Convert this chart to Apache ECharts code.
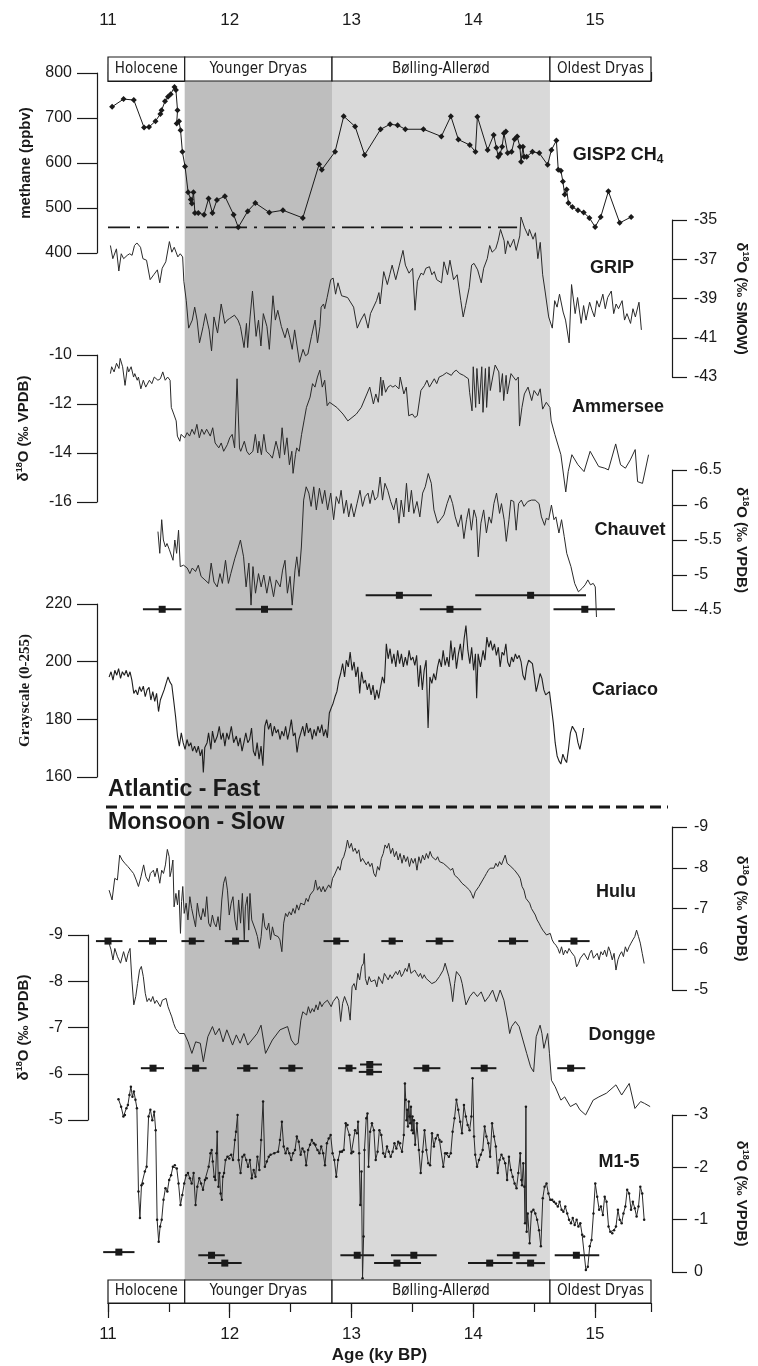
<!DOCTYPE html>
<html>
<head>
<meta charset="utf-8">
<script src="https://cdn.jsdelivr.net/npm/echarts@6/dist/echarts.min.js"></script>
<style>
  html, body { margin: 0; padding: 0; background: #fff; }
  #chart { width: 758px; height: 1366px; }
</style>
</head>
<body>
<div id="chart"></div>
<script>
// ---- data (age in ky BP) ----
const periodNames = ['Holocene', 'Younger Dryas', 'Bølling-Allerød', 'Oldest Dryas'];
const periodEdges = [11, 11.63, 12.84, 14.63, 15.46];
const gripTicks = [-43, -41, -39, -37, -35];

const methane = [[11.034,725],[11.128,742],[11.212,740],[11.296,679],[11.337,680],[11.390,693],[11.430,709],[11.440,717],[11.468,737],[11.493,747],[11.515,753],[11.546,769],[11.558,762],[11.571,717],[11.564,688],[11.583,693],[11.596,673],[11.611,625],[11.633,592],[11.658,535],[11.680,519],[11.689,510],[11.702,535],[11.714,489],[11.742,489],[11.789,485],[11.826,521],[11.858,489],[11.895,518],[11.960,526],[12.032,485],[12.070,457],[12.148,493],[12.210,511],[12.325,490],[12.437,495],[12.600,478],[12.734,597],[12.756,585],[12.865,625],[12.936,704],[13.030,681],[13.108,618],[13.239,675],[13.317,686],[13.379,684],[13.442,675],[13.591,675],[13.738,659],[13.816,704],[13.878,652],[13.972,640],[14.018,625],[14.034,703],[14.118,629],[14.168,662],[14.190,634],[14.206,614],[14.221,620],[14.237,636],[14.252,666],[14.268,670],[14.283,622],[14.315,625],[14.340,653],[14.361,659],[14.383,636],[14.393,603],[14.408,636],[14.418,614],[14.439,614],[14.486,625],[14.542,622],[14.611,596],[14.642,629],[14.683,650],[14.698,585],[14.720,583],[14.736,559],[14.751,530],[14.767,541],[14.782,511],[14.814,502],[14.860,495],[14.907,490],[14.954,478],[15.001,458],[15.047,480],[15.110,537],[15.203,467],[15.297,480]];
const methaneRef = [[11.0,457],[14.36,457]];

const grip = [[11.02,-36.3],[11.04,-36.97],[11.07,-36.47],[11.09,-37.6],[11.11,-36.72],[11.13,-36.97],[11.16,-36.8],[11.18,-36.72],[11.20,-36.8],[11.22,-36.3],[11.24,-36.17],[11.27,-36.39],[11.29,-36.97],[11.32,-37.05],[11.35,-38.04],[11.38,-37.79],[11.41,-37.54],[11.43,-38.2],[11.45,-37.46],[11.48,-37.13],[11.51,-36.1],[11.53,-36.64],[11.55,-36.39],[11.58,-36.88],[11.60,-36.72],[11.62,-36.88],[11.63,-38.12],[11.65,-39.11],[11.67,-40.51],[11.70,-40.1],[11.72,-39.44],[11.74,-40.1],[11.76,-41.26],[11.79,-40.43],[11.81,-39.77],[11.84,-40.6],[11.86,-41.67],[11.88,-39.94],[11.91,-40.76],[11.94,-39.28],[11.97,-40.27],[11.99,-40.1],[12.01,-40.02],[12.05,-39.85],[12.08,-40.1],[12.10,-40.43],[12.13,-41.5],[12.15,-40.27],[12.16,-41.5],[12.18,-39.94],[12.20,-38.62],[12.23,-40.93],[12.25,-40.1],[12.27,-41.42],[12.29,-39.77],[12.32,-40.43],[12.34,-41.59],[12.37,-38.86],[12.39,-40.1],[12.41,-39.6],[12.44,-40.43],[12.47,-41.0],[12.49,-40.51],[12.51,-41.0],[12.53,-41.59],[12.55,-40.6],[12.58,-41.83],[12.59,-42.25],[12.62,-41.59],[12.64,-41.92],[12.66,-41.83],[12.69,-40.93],[12.72,-40.1],[12.74,-41.26],[12.76,-40.43],[12.77,-39.44],[12.79,-39.28],[12.80,-39.52],[12.82,-38.95],[12.83,-39.03],[12.85,-38.04],[12.87,-37.96],[12.89,-38.78],[12.91,-38.2],[12.94,-38.86],[12.99,-38.95],[13.04,-39.44],[13.07,-40.51],[13.10,-40.1],[13.13,-39.77],[13.16,-40.51],[13.18,-39.77],[13.23,-39.11],[13.25,-38.7],[13.26,-39.28],[13.29,-37.63],[13.32,-38.29],[13.34,-37.79],[13.36,-37.3],[13.39,-38.04],[13.42,-37.3],[13.45,-36.55],[13.47,-37.3],[13.50,-37.71],[13.53,-37.46],[13.55,-39.6],[13.57,-38.12],[13.60,-37.71],[13.62,-37.79],[13.64,-37.46],[13.67,-37.38],[13.69,-37.79],[13.71,-37.63],[13.73,-38.04],[13.77,-38.2],[13.79,-37.13],[13.82,-37.79],[13.84,-37.05],[13.87,-38.04],[13.90,-37.79],[13.93,-39.11],[13.95,-39.94],[13.97,-39.36],[14.00,-38.45],[14.02,-37.3],[14.04,-37.21],[14.07,-37.54],[14.10,-38.2],[14.12,-37.46],[14.15,-36.97],[14.17,-36.3],[14.19,-36.64],[14.22,-36.47],[14.24,-36.06],[14.26,-35.48],[14.29,-36.06],[14.30,-36.72],[14.32,-36.06],[14.34,-36.39],[14.37,-35.98],[14.39,-36.55],[14.42,-35.81],[14.43,-34.85],[14.46,-35.4],[14.49,-35.81],[14.50,-35.48],[14.53,-35.98],[14.55,-35.65],[14.57,-36.97],[14.59,-36.14],[14.61,-37.79],[14.63,-38.62],[14.66,-39.94],[14.69,-40.51],[14.71,-39.11],[14.73,-39.44],[14.75,-38.78],[14.78,-39.69],[14.80,-40.1],[14.83,-41.26],[14.85,-38.29],[14.88,-39.77],[14.90,-38.95],[14.93,-40.27],[14.95,-39.36],[14.97,-40.1],[15.00,-39.19],[15.02,-39.6],[15.04,-39.94],[15.06,-39.11],[15.08,-39.44],[15.11,-38.78],[15.13,-39.52],[15.15,-38.95],[15.18,-38.62],[15.20,-39.77],[15.22,-39.28],[15.24,-39.52],[15.27,-39.11],[15.29,-40.1],[15.31,-39.77],[15.34,-40.27],[15.36,-39.52],[15.38,-39.94],[15.41,-39.19],[15.43,-40.6]];

const ammersee = [[11.02,-10.76],[11.03,-10.48],[11.05,-10.69],[11.07,-10.34],[11.09,-10.55],[11.10,-10.14],[11.12,-10.48],[11.13,-10.48],[11.14,-11.24],[11.16,-10.48],[11.17,-10.69],[11.19,-10.48],[11.21,-10.9],[11.22,-10.76],[11.24,-11.03],[11.25,-10.9],[11.27,-11.38],[11.29,-11.03],[11.31,-11.31],[11.34,-11.03],[11.36,-11.17],[11.38,-10.9],[11.41,-11.03],[11.43,-10.97],[11.45,-10.69],[11.47,-11.03],[11.49,-10.9],[11.51,-11.03],[11.52,-12.14],[11.54,-12.41],[11.56,-12.69],[11.57,-13.31],[11.59,-13.52],[11.60,-13.24],[11.63,-13.38],[11.65,-13.17],[11.67,-13.31],[11.69,-13.03],[11.71,-13.24],[11.73,-12.83],[11.75,-13.38],[11.77,-13.03],[11.79,-13.24],[11.81,-13.03],[11.84,-13.31],[11.86,-12.97],[11.88,-13.59],[11.91,-13.79],[11.93,-13.59],[11.95,-13.93],[11.98,-13.66],[12.00,-13.38],[12.02,-13.24],[12.04,-13.79],[12.06,-10.97],[12.08,-13.79],[12.09,-13.93],[12.12,-13.52],[12.14,-13.93],[12.16,-14.07],[12.19,-13.93],[12.21,-13.24],[12.23,-14.0],[12.24,-13.52],[12.26,-14.07],[12.28,-13.24],[12.30,-13.93],[12.33,-14.07],[12.35,-14.21],[12.38,-13.52],[12.40,-13.93],[12.41,-14.21],[12.43,-12.97],[12.45,-14.07],[12.47,-13.38],[12.49,-14.48],[12.51,-13.93],[12.52,-14.83],[12.54,-14.07],[12.55,-13.79],[12.57,-13.93],[12.59,-13.24],[12.61,-12.69],[12.63,-12.14],[12.66,-11.72],[12.68,-11.17],[12.70,-11.31],[12.72,-10.9],[12.74,-10.62],[12.76,-11.31],[12.78,-11.03],[12.80,-12.07],[12.82,-11.93],[12.88,-12.14],[12.93,-12.41],[12.97,-12.69],[13.04,-12.41],[13.08,-12.14],[13.15,-11.31],[13.18,-12.0],[13.20,-11.59],[13.22,-11.93],[13.24,-10.9],[13.25,-11.66],[13.26,-11.03],[13.28,-11.52],[13.30,-11.31],[13.32,-11.24],[13.34,-11.31],[13.36,-11.24],[13.39,-11.38],[13.40,-10.9],[13.43,-11.59],[13.45,-11.31],[13.47,-12.48],[13.50,-12.41],[13.52,-12.55],[13.54,-12.48],[13.57,-11.45],[13.60,-11.24],[13.62,-11.03],[13.64,-11.31],[13.68,-10.97],[13.70,-11.17],[13.72,-10.9],[13.75,-10.83],[13.78,-10.72],[13.82,-10.83],[13.84,-10.69],[13.86,-10.62],[13.89,-10.76],[13.92,-10.83],[13.96,-10.97],[13.97,-11.52],[13.99,-12.28],[14.00,-10.48],[14.02,-12.14],[14.03,-10.55],[14.05,-12.0],[14.07,-10.48],[14.08,-12.34],[14.10,-10.55],[14.11,-12.14],[14.13,-10.48],[14.14,-11.45],[14.16,-10.9],[14.18,-10.41],[14.21,-10.69],[14.22,-11.52],[14.24,-10.76],[14.25,-11.86],[14.27,-10.83],[14.28,-11.59],[14.31,-10.76],[14.33,-10.9],[14.35,-11.03],[14.37,-10.9],[14.38,-12.9],[14.40,-12.14],[14.42,-11.59],[14.45,-11.31],[14.48,-11.86],[14.50,-11.45],[14.53,-11.66],[14.55,-11.38],[14.57,-12.21],[14.60,-11.93],[14.63,-12.14],[14.64,-12.69],[14.67,-13.24],[14.72,-14.07],[14.76,-15.59],[14.78,-14.76],[14.81,-14.07],[14.86,-14.48],[14.91,-14.76],[14.96,-13.93],[15.03,-14.55],[15.08,-14.62],[15.11,-14.69],[15.17,-13.63],[15.21,-14.48],[15.25,-14.62],[15.29,-14.28],[15.33,-13.86],[15.35,-15.17],[15.39,-15.24],[15.44,-14.07]];

const chauvet = [[11.415,-5.62],[11.43,-5.31],[11.446,-5.79],[11.46,-5.50],[11.477,-5.40],[11.49,-5.45],[11.51,-5.36],[11.52,-5.38],[11.54,-5.21],[11.555,-5.50],[11.57,-5.31],[11.586,-5.64],[11.60,-5.12],[11.627,-5.14],[11.658,-5.10],[11.68,-5.02],[11.70,-5.10],[11.727,-5.05],[11.75,-5.14],[11.773,-4.98],[11.805,-4.93],[11.836,-4.88],[11.857,-5.17],[11.88,-4.90],[11.907,-4.83],[11.93,-5.02],[11.95,-4.88],[11.976,-5.21],[12.00,-4.88],[12.02,-5.02],[12.054,-5.24],[12.076,-5.36],[12.10,-5.50],[12.126,-5.26],[12.147,-4.83],[12.17,-5.17],[12.188,-4.57],[12.204,-5.12],[12.225,-4.74],[12.25,-5.02],[12.272,-4.83],[12.294,-5.00],[12.319,-4.74],[12.344,-4.98],[12.375,-4.69],[12.397,-4.93],[12.43,-4.83],[12.45,-5.07],[12.47,-5.21],[12.49,-4.74],[12.512,-4.98],[12.53,-4.57],[12.553,-5.07],[12.568,-5.26],[12.587,-4.98],[12.606,-5.40],[12.625,-6.07],[12.646,-6.26],[12.668,-6.17],[12.687,-5.98],[12.709,-6.26],[12.73,-5.93],[12.756,-6.24],[12.78,-6.02],[12.80,-6.21],[12.824,-5.93],[12.85,-6.17],[12.874,-5.79],[12.896,-6.12],[12.918,-6.02],[12.936,-6.21],[12.958,-5.88],[12.98,-6.07],[12.999,-5.83],[13.02,-6.02],[13.043,-5.83],[13.068,-6.02],[13.093,-6.21],[13.114,-5.98],[13.136,-6.12],[13.16,-6.17],[13.176,-6.02],[13.198,-6.21],[13.217,-6.07],[13.24,-6.12],[13.26,-6.40],[13.28,-6.07],[13.30,-6.31],[13.323,-6.21],[13.348,-6.05],[13.373,-5.93],[13.395,-6.10],[13.417,-5.74],[13.435,-6.07],[13.457,-5.83],[13.479,-6.31],[13.498,-5.90],[13.52,-6.21],[13.54,-5.88],[13.566,-6.05],[13.59,-5.83],[13.613,-6.17],[13.635,-6.26],[13.66,-6.45],[13.685,-6.31],[13.707,-5.93],[13.738,-5.74],[13.77,-5.81],[13.79,-5.86],[13.816,-6.02],[13.84,-6.14],[13.862,-6.02],[13.884,-5.83],[13.909,-5.69],[13.934,-5.86],[13.956,-5.52],[13.978,-5.79],[13.997,-5.95],[14.018,-5.64],[14.04,-5.93],[14.06,-5.81],[14.075,-5.26],[14.097,-5.74],[14.12,-5.93],[14.143,-5.60],[14.165,-5.83],[14.184,-5.74],[14.205,-6.02],[14.227,-6.17],[14.252,-5.88],[14.268,-6.02],[14.29,-5.79],[14.308,-5.48],[14.33,-5.79],[14.346,-6.07],[14.37,-6.05],[14.39,-5.64],[14.41,-6.02],[14.433,-6.07],[14.455,-5.98],[14.486,-6.05],[14.517,-6.07],[14.548,-6.07],[14.58,-6.02],[14.60,-5.83],[14.626,-5.71],[14.64,-5.81],[14.66,-5.79],[14.683,-6.00],[14.704,-5.79],[14.72,-5.83],[14.745,-5.60],[14.767,-5.79],[14.789,-5.55],[14.81,-5.31],[14.845,-5.12],[14.876,-4.88],[14.907,-4.76],[14.938,-4.81],[14.963,-4.86],[14.985,-4.93],[15.007,-4.86],[15.03,-4.88],[15.047,-4.83],[15.057,-4.40]];

const cariaco = [[11.009,194.7],[11.025,196.5],[11.041,193.6],[11.056,197.0],[11.072,195.3],[11.087,197.6],[11.103,194.2],[11.118,196.5],[11.134,195.3],[11.150,197.0],[11.165,194.7],[11.181,196.5],[11.196,193.6],[11.212,189.0],[11.228,190.2],[11.243,188.5],[11.259,191.3],[11.274,189.6],[11.290,191.5],[11.306,187.9],[11.321,190.2],[11.337,191.1],[11.352,186.7],[11.368,189.6],[11.384,186.2],[11.399,189.0],[11.415,182.7],[11.430,186.7],[11.446,187.3],[11.461,190.2],[11.477,192.5],[11.493,194.7],[11.508,193.0],[11.524,191.9],[11.539,186.7],[11.555,181.0],[11.571,174.2],[11.586,170.7],[11.602,175.3],[11.617,171.9],[11.633,169.6],[11.649,173.0],[11.664,170.7],[11.680,171.9],[11.695,169.0],[11.711,170.7],[11.727,168.5],[11.742,170.7],[11.758,167.3],[11.773,169.6],[11.783,161.6],[11.795,170.2],[11.814,171.9],[11.826,175.3],[11.845,169.6],[11.858,175.9],[11.876,171.9],[11.898,174.2],[11.914,177.6],[11.929,173.0],[11.945,175.3],[11.960,170.7],[11.976,175.3],[11.992,173.0],[12.013,177.6],[12.032,171.9],[12.054,174.2],[12.070,170.7],[12.085,173.6],[12.101,169.0],[12.116,171.9],[12.132,175.3],[12.148,171.9],[12.163,173.0],[12.179,177.0],[12.194,169.0],[12.210,167.3],[12.225,171.9],[12.241,166.2],[12.257,170.7],[12.272,163.9],[12.288,177.6],[12.303,179.9],[12.319,176.5],[12.335,178.7],[12.350,174.2],[12.366,177.6],[12.381,175.3],[12.397,176.5],[12.413,173.0],[12.428,175.9],[12.444,174.2],[12.459,177.6],[12.475,173.0],[12.490,175.9],[12.506,179.9],[12.522,174.2],[12.537,175.3],[12.553,168.5],[12.568,173.0],[12.584,175.3],[12.600,177.6],[12.615,174.2],[12.631,178.7],[12.646,175.3],[12.662,177.0],[12.678,173.0],[12.693,176.5],[12.709,174.2],[12.724,177.6],[12.740,175.3],[12.756,178.2],[12.771,174.2],[12.787,176.5],[12.802,173.6],[12.818,182.2],[12.833,183.9],[12.849,185.6],[12.865,187.9],[12.880,189.6],[12.896,193.6],[12.911,195.9],[12.927,199.3],[12.943,194.7],[12.958,200.5],[12.974,198.2],[12.989,203.3],[13.005,197.0],[13.021,199.9],[13.036,194.7],[13.052,198.2],[13.067,189.0],[13.083,196.5],[13.099,192.5],[13.114,193.6],[13.130,190.2],[13.145,192.5],[13.161,188.5],[13.177,191.9],[13.192,186.7],[13.208,190.2],[13.223,187.3],[13.239,191.3],[13.254,194.7],[13.270,192.5],[13.286,206.2],[13.301,201.0],[13.317,204.5],[13.332,199.3],[13.348,202.7],[13.364,198.2],[13.379,203.9],[13.395,199.3],[13.410,202.7],[13.426,198.2],[13.442,201.6],[13.457,198.7],[13.473,203.9],[13.488,200.5],[13.504,201.6],[13.520,198.7],[13.535,202.2],[13.551,191.3],[13.566,198.7],[13.582,190.2],[13.597,197.0],[13.613,200.5],[13.629,177.0],[13.644,194.7],[13.660,192.5],[13.675,195.9],[13.691,193.6],[13.707,198.2],[13.722,201.0],[13.738,198.2],[13.753,203.9],[13.769,198.7],[13.785,201.6],[13.800,198.2],[13.816,207.3],[13.831,200.5],[13.847,205.0],[13.862,197.6],[13.878,202.7],[13.894,206.2],[13.909,200.5],[13.925,207.9],[13.940,212.5],[13.956,203.9],[13.972,199.3],[13.987,205.0],[14.003,197.0],[14.018,202.7],[14.028,187.3],[14.040,202.7],[14.059,198.2],[14.081,203.9],[14.096,200.5],[14.112,208.5],[14.128,205.0],[14.143,207.3],[14.159,203.9],[14.174,206.2],[14.190,202.2],[14.206,205.0],[14.221,198.2],[14.237,203.3],[14.252,202.2],[14.268,206.2],[14.283,199.9],[14.299,198.2],[14.315,201.6],[14.330,199.9],[14.346,202.7],[14.361,201.0],[14.377,202.2],[14.393,199.9],[14.408,195.3],[14.424,193.6],[14.439,198.2],[14.455,200.5],[14.471,201.0],[14.486,199.3],[14.502,194.7],[14.517,189.6],[14.533,192.5],[14.549,195.9],[14.564,194.2],[14.580,190.2],[14.595,188.5],[14.611,187.9],[14.626,189.6],[14.642,189.0],[14.658,178.7],[14.673,171.9],[14.689,167.3],[14.704,165.6],[14.720,164.5],[14.736,167.9],[14.751,166.2],[14.767,165.0],[14.782,169.6],[14.798,175.3],[14.814,177.6],[14.829,177.0],[14.845,175.3],[14.860,171.9],[14.876,169.6],[14.892,173.0],[14.907,177.0]];

const hulu = [[11.009,-7.45],[11.034,-7.21],[11.056,-7.74],[11.078,-7.70],[11.097,-8.31],[11.118,-8.19],[11.140,-8.11],[11.165,-8.03],[11.190,-7.94],[11.212,-7.86],[11.234,-7.70],[11.253,-7.54],[11.274,-7.78],[11.296,-8.07],[11.315,-7.78],[11.337,-7.66],[11.352,-7.86],[11.377,-7.94],[11.390,-7.78],[11.408,-7.99],[11.430,-7.62],[11.446,-7.94],[11.461,-7.86],[11.477,-8.07],[11.493,-8.45],[11.508,-8.27],[11.515,-7.78],[11.527,-7.94],[11.539,-8.19],[11.549,-7.04],[11.564,-7.37],[11.577,-7.09],[11.589,-7.45],[11.602,-6.39],[11.611,-7.17],[11.621,-7.54],[11.633,-6.88],[11.649,-7.13],[11.664,-6.72],[11.680,-7.29],[11.695,-7.00],[11.711,-6.96],[11.727,-6.55],[11.742,-7.13],[11.758,-6.84],[11.773,-6.72],[11.789,-7.00],[11.805,-6.80],[11.820,-7.29],[11.836,-6.64],[11.851,-6.55],[11.867,-6.84],[11.882,-6.64],[11.898,-6.55],[11.914,-6.80],[11.929,-6.47],[11.945,-7.21],[11.960,-7.62],[11.976,-7.78],[11.992,-7.45],[12.007,-6.84],[12.023,-7.13],[12.038,-7.29],[12.054,-6.72],[12.070,-6.47],[12.085,-7.21],[12.101,-6.64],[12.116,-7.37],[12.132,-6.23],[12.141,-7.04],[12.157,-7.29],[12.169,-6.47],[12.179,-7.37],[12.194,-6.72],[12.210,-6.72],[12.225,-6.47],[12.241,-6.31],[12.257,-6.02],[12.272,-6.31],[12.288,-6.88],[12.303,-6.55],[12.319,-6.47],[12.335,-6.64],[12.350,-6.23],[12.366,-6.55],[12.381,-6.35],[12.397,-6.39],[12.413,-6.31],[12.428,-6.23],[12.444,-5.94],[12.459,-6.64],[12.475,-6.88],[12.490,-6.80],[12.506,-6.92],[12.522,-6.84],[12.537,-7.00],[12.553,-6.88],[12.568,-7.09],[12.584,-6.96],[12.600,-7.13],[12.615,-7.17],[12.631,-7.09],[12.646,-7.25],[12.662,-7.17],[12.678,-7.33],[12.693,-7.29],[12.709,-7.45],[12.724,-7.70],[12.740,-7.45],[12.756,-7.54],[12.771,-7.41],[12.787,-7.54],[12.802,-7.41],[12.818,-7.50],[12.833,-7.58],[12.849,-7.50],[12.865,-7.74],[12.880,-7.82],[12.896,-7.86],[12.911,-8.03],[12.927,-7.94],[12.943,-8.19],[12.958,-8.27],[12.974,-8.44],[12.989,-8.68],[13.005,-8.48],[13.021,-8.60],[13.036,-8.40],[13.052,-8.48],[13.067,-8.35],[13.083,-8.44],[13.099,-8.15],[13.114,-8.23],[13.130,-8.19],[13.145,-8.07],[13.161,-8.15],[13.177,-8.03],[13.192,-8.11],[13.208,-7.86],[13.223,-7.78],[13.239,-8.03],[13.254,-7.94],[13.270,-8.23],[13.286,-8.35],[13.301,-8.56],[13.317,-8.48],[13.332,-8.60],[13.348,-8.35],[13.364,-8.48],[13.379,-8.27],[13.395,-8.40],[13.410,-8.19],[13.426,-8.35],[13.442,-8.11],[13.457,-8.31],[13.473,-8.15],[13.488,-8.27],[13.504,-8.03],[13.520,-8.23],[13.535,-8.11],[13.551,-8.23],[13.566,-7.94],[13.582,-8.27],[13.597,-8.11],[13.613,-8.31],[13.629,-8.19],[13.644,-8.35],[13.660,-8.23],[13.675,-8.40],[13.691,-8.27],[13.707,-8.31],[13.722,-8.19],[13.738,-8.27],[13.753,-8.15],[13.769,-8.19],[13.785,-8.11],[13.800,-8.15],[13.816,-8.03],[13.831,-8.07],[13.847,-7.94],[13.862,-7.99],[13.878,-7.82],[13.894,-7.86],[13.909,-7.74],[13.925,-7.70],[13.940,-7.62],[13.956,-7.66],[13.972,-7.54],[13.987,-7.50],[14.003,-7.45],[14.018,-7.37],[14.034,-7.25],[14.050,-7.41],[14.065,-7.45],[14.081,-7.54],[14.096,-7.58],[14.112,-7.70],[14.128,-7.78],[14.143,-7.86],[14.159,-7.94],[14.174,-7.99],[14.190,-8.03],[14.206,-7.99],[14.221,-8.11],[14.237,-8.03],[14.252,-8.15],[14.268,-8.07],[14.283,-8.19],[14.299,-8.31],[14.315,-8.11],[14.330,-8.15],[14.346,-8.03],[14.361,-8.07],[14.377,-7.94],[14.393,-7.94],[14.408,-7.82],[14.424,-7.74],[14.439,-7.54],[14.455,-7.45],[14.471,-7.25],[14.486,-7.21],[14.502,-7.13],[14.517,-7.00],[14.533,-6.96],[14.549,-6.84],[14.564,-6.72],[14.580,-6.64],[14.595,-6.55],[14.611,-6.47],[14.626,-6.51],[14.642,-6.35],[14.658,-6.31],[14.673,-6.39],[14.689,-6.23],[14.704,-6.15],[14.720,-6.10],[14.736,-6.02],[14.751,-5.90],[14.767,-6.06],[14.782,-5.86],[14.798,-5.98],[14.814,-5.90],[14.829,-6.02],[14.845,-5.94],[14.860,-5.90],[14.876,-5.82],[14.892,-5.57],[14.907,-5.65],[14.923,-5.78],[14.938,-5.74],[14.954,-5.90],[14.969,-5.86],[14.985,-5.74],[15.001,-5.90],[15.016,-5.98],[15.032,-5.78],[15.047,-5.82],[15.063,-5.90],[15.079,-5.74],[15.094,-5.94],[15.110,-5.86],[15.125,-5.98],[15.141,-5.82],[15.157,-6.06],[15.172,-5.94],[15.188,-5.74],[15.203,-5.90],[15.219,-5.49],[15.235,-5.74],[15.250,-5.86],[15.266,-5.94],[15.281,-5.82],[15.297,-6.06],[15.312,-5.94],[15.328,-6.06],[15.344,-6.15],[15.359,-6.23],[15.375,-6.31],[15.390,-6.47],[15.406,-6.31],[15.421,-6.15],[15.437,-5.90],[15.453,-5.65]];

const dongge = [[11.009,-8.82],[11.025,-8.68],[11.041,-8.46],[11.056,-8.71],[11.078,-8.53],[11.103,-8.39],[11.128,-8.64],[11.150,-8.42],[11.165,-8.60],[11.181,-8.71],[11.196,-8.03],[11.212,-7.49],[11.228,-7.67],[11.243,-7.95],[11.259,-8.24],[11.274,-8.32],[11.290,-8.10],[11.306,-7.74],[11.321,-7.56],[11.337,-7.63],[11.352,-7.56],[11.368,-7.67],[11.384,-7.52],[11.399,-7.59],[11.415,-7.56],[11.430,-7.45],[11.446,-7.59],[11.461,-7.56],[11.477,-7.63],[11.493,-7.45],[11.508,-7.34],[11.524,-7.23],[11.539,-7.09],[11.555,-6.98],[11.571,-7.02],[11.586,-6.87],[11.602,-6.91],[11.627,-6.87],[11.658,-6.69],[11.689,-6.44],[11.720,-6.69],[11.758,-6.66],[11.783,-6.26],[11.820,-6.80],[11.858,-7.02],[11.882,-6.84],[11.914,-6.98],[11.945,-6.69],[11.976,-6.95],[12.023,-6.62],[12.054,-6.84],[12.085,-6.66],[12.116,-6.87],[12.148,-6.62],[12.225,-6.87],[12.257,-7.05],[12.294,-6.44],[12.350,-6.73],[12.413,-6.95],[12.475,-7.02],[12.506,-6.73],[12.537,-6.62],[12.562,-6.66],[12.584,-7.16],[12.600,-7.34],[12.615,-7.38],[12.631,-7.27],[12.646,-7.45],[12.662,-7.31],[12.678,-7.41],[12.693,-7.34],[12.709,-7.49],[12.724,-7.38],[12.740,-7.56],[12.756,-7.45],[12.771,-7.52],[12.787,-7.56],[12.802,-7.59],[12.818,-7.56],[12.833,-7.45],[12.849,-7.56],[12.865,-7.52],[12.880,-7.67],[12.896,-7.59],[12.911,-7.13],[12.927,-7.52],[12.943,-7.67],[12.958,-7.63],[12.974,-7.45],[12.989,-7.16],[13.005,-7.88],[13.021,-7.95],[13.036,-7.81],[13.052,-8.17],[13.067,-8.03],[13.083,-8.32],[13.099,-8.39],[13.105,-8.60],[13.114,-8.06],[13.130,-7.92],[13.145,-8.10],[13.161,-7.99],[13.177,-7.95],[13.192,-8.03],[13.208,-7.88],[13.223,-8.10],[13.239,-8.06],[13.254,-7.95],[13.270,-8.17],[13.286,-8.10],[13.301,-8.03],[13.317,-8.14],[13.332,-8.06],[13.348,-8.10],[13.364,-8.21],[13.379,-8.14],[13.395,-8.24],[13.410,-8.10],[13.426,-8.17],[13.442,-8.28],[13.457,-8.21],[13.473,-8.39],[13.488,-8.17],[13.504,-8.14],[13.520,-8.24],[13.535,-8.17],[13.551,-8.10],[13.566,-8.17],[13.582,-8.06],[13.597,-8.14],[13.613,-8.06],[13.629,-8.03],[13.660,-7.95],[13.691,-7.99],[13.722,-8.10],[13.753,-8.24],[13.769,-8.39],[13.785,-8.35],[13.800,-8.10],[13.816,-7.88],[13.831,-7.56],[13.847,-7.95],[13.862,-8.21],[13.878,-8.17],[13.894,-8.10],[13.909,-7.95],[13.940,-7.49],[13.972,-7.67],[14.003,-7.77],[14.034,-7.67],[14.065,-7.77],[14.096,-7.56],[14.128,-7.67],[14.159,-7.81],[14.190,-7.56],[14.221,-7.81],[14.252,-7.59],[14.283,-7.16],[14.299,-6.87],[14.315,-7.02],[14.346,-7.13],[14.377,-7.02],[14.408,-6.73],[14.439,-6.44],[14.471,-6.15],[14.496,-6.04],[14.517,-6.80],[14.549,-7.05],[14.564,-6.87],[14.580,-6.55],[14.595,-6.59],[14.611,-6.87],[14.626,-6.44],[14.642,-5.86],[14.673,-5.72],[14.720,-5.43],[14.751,-5.50],[14.798,-5.29],[14.845,-5.36],[14.876,-5.22],[14.923,-5.11],[14.985,-5.43],[15.032,-5.50],[15.094,-5.58],[15.172,-5.76],[15.219,-5.54],[15.281,-5.79],[15.328,-5.25],[15.375,-5.40],[15.406,-5.36],[15.453,-5.29]];

const m15 = [[11.087,-3.30],[11.109,-3.16],[11.128,-2.97],[11.140,-3.00],[11.153,-3.13],[11.165,-3.19],[11.178,-3.38],[11.190,-3.54],[11.203,-3.35],[11.215,-3.45],[11.228,-3.29],[11.240,-3.13],[11.253,-1.54],[11.265,-1.03],[11.278,-1.66],[11.290,-1.69],[11.306,-1.92],[11.321,-2.01],[11.337,-2.97],[11.352,-3.10],[11.368,-2.90],[11.384,-3.06],[11.396,-2.71],[11.408,-1.00],[11.421,-0.58],[11.433,-0.87],[11.446,-1.00],[11.461,-1.38],[11.477,-1.60],[11.493,-1.54],[11.508,-1.76],[11.524,-1.85],[11.539,-2.01],[11.555,-2.04],[11.571,-1.98],[11.586,-1.69],[11.602,-1.28],[11.617,-1.47],[11.633,-1.69],[11.649,-1.85],[11.664,-1.89],[11.680,-1.79],[11.695,-1.69],[11.711,-1.89],[11.727,-1.28],[11.742,-1.63],[11.758,-1.79],[11.773,-1.69],[11.789,-1.57],[11.805,-1.76],[11.820,-1.79],[11.836,-2.01],[11.851,-2.27],[11.861,-2.33],[11.870,-2.11],[11.882,-1.82],[11.892,-1.76],[11.901,-2.27],[11.907,-2.68],[11.917,-1.63],[11.926,-1.89],[11.935,-1.50],[11.945,-1.38],[11.954,-1.82],[11.964,-1.89],[11.976,-2.14],[11.992,-2.20],[12.007,-2.17],[12.023,-2.24],[12.038,-2.14],[12.054,-2.52],[12.063,-2.68],[12.076,-3.00],[12.085,-2.14],[12.101,-1.89],[12.116,-2.20],[12.132,-2.24],[12.148,-2.14],[12.163,-2.01],[12.179,-2.14],[12.194,-1.79],[12.210,-1.95],[12.225,-1.82],[12.241,-2.20],[12.257,-1.95],[12.272,-2.52],[12.288,-3.26],[12.303,-2.01],[12.319,-2.11],[12.335,-2.20],[12.350,-2.24],[12.381,-2.27],[12.413,-2.30],[12.428,-2.52],[12.444,-2.87],[12.459,-2.40],[12.475,-2.27],[12.490,-2.36],[12.506,-2.27],[12.522,-2.14],[12.537,-2.27],[12.553,-2.33],[12.568,-2.59],[12.584,-2.49],[12.600,-2.24],[12.615,-2.36],[12.631,-2.30],[12.646,-2.04],[12.662,-2.33],[12.678,-2.43],[12.693,-2.52],[12.709,-2.46],[12.724,-2.43],[12.740,-2.33],[12.756,-2.27],[12.771,-2.40],[12.787,-2.27],[12.802,-2.04],[12.818,-2.46],[12.833,-2.55],[12.849,-2.62],[12.865,-2.27],[12.880,-2.14],[12.896,-1.82],[12.911,-2.14],[12.927,-2.30],[12.943,-2.30],[12.958,-2.33],[12.974,-2.84],[12.989,-2.81],[13.005,-2.62],[13.021,-2.27],[13.036,-2.30],[13.052,-2.71],[13.067,-2.65],[13.077,-2.87],[13.086,-2.27],[13.095,-1.28],[13.105,-1.92],[13.114,0.12],[13.123,-0.68],[13.130,-2.33],[13.145,-2.94],[13.155,-3.03],[13.164,-2.01],[13.177,-2.68],[13.192,-2.84],[13.208,-2.71],[13.223,-2.14],[13.239,-2.30],[13.254,-2.71],[13.270,-2.62],[13.286,-2.27],[13.301,-2.20],[13.317,-2.40],[13.332,-2.30],[13.348,-2.20],[13.364,-2.30],[13.379,-2.46],[13.395,-2.36],[13.410,-2.49],[13.426,-2.46],[13.442,-2.30],[13.457,-2.62],[13.466,-3.60],[13.473,-3.29],[13.479,-2.90],[13.485,-3.10],[13.491,-2.78],[13.498,-3.26],[13.504,-2.97],[13.510,-2.84],[13.516,-3.16],[13.523,-2.71],[13.529,-2.97],[13.535,-2.65],[13.541,-2.90],[13.551,-2.43],[13.566,-2.84],[13.582,-2.33],[13.597,-1.89],[13.613,-2.30],[13.629,-2.71],[13.644,-2.33],[13.660,-2.08],[13.675,-2.04],[13.691,-2.65],[13.707,-2.40],[13.722,-2.55],[13.738,-2.62],[13.753,-2.52],[13.769,-2.49],[13.785,-2.01],[13.800,-2.27],[13.816,-2.27],[13.831,-2.20],[13.847,-2.27],[13.862,-2.68],[13.878,-2.94],[13.894,-3.29],[13.909,-3.10],[13.925,-2.87],[13.940,-2.65],[13.956,-3.19],[13.972,-2.97],[13.987,-2.81],[14.003,-2.71],[14.018,-2.97],[14.028,-3.70],[14.040,-2.59],[14.050,-2.24],[14.065,-2.01],[14.081,-2.14],[14.096,-2.24],[14.112,-2.33],[14.128,-2.78],[14.143,-2.59],[14.159,-2.46],[14.174,-2.20],[14.190,-2.84],[14.206,-2.59],[14.221,-2.40],[14.237,-1.89],[14.252,-2.14],[14.268,-2.24],[14.283,-2.17],[14.299,-2.08],[14.315,-1.76],[14.330,-2.20],[14.346,-1.95],[14.361,-1.82],[14.377,-1.69],[14.393,-1.60],[14.408,-1.89],[14.424,-2.27],[14.433,-1.76],[14.439,-1.66],[14.449,-2.08],[14.458,-1.63],[14.464,-0.93],[14.471,-3.16],[14.477,-0.77],[14.486,-1.12],[14.502,-0.55],[14.517,-1.15],[14.533,-1.19],[14.549,-1.12],[14.564,-1.00],[14.580,-0.80],[14.595,-0.49],[14.611,-1.41],[14.626,-1.63],[14.642,-1.69],[14.658,-1.50],[14.673,-1.38],[14.689,-1.38],[14.704,-1.34],[14.720,-1.31],[14.736,-1.25],[14.751,-1.34],[14.767,-1.19],[14.782,-1.15],[14.798,-1.25],[14.814,-1.12],[14.829,-1.00],[14.845,-0.93],[14.860,-1.03],[14.876,-0.90],[14.892,-1.00],[14.907,-0.87],[14.923,-0.93],[14.938,-0.71],[14.954,-0.68],[14.969,-0.04],[14.985,-0.10],[15.001,-0.49],[15.016,-0.61],[15.032,-1.12],[15.047,-1.69],[15.063,-1.44],[15.079,-1.19],[15.094,-1.25],[15.110,-1.09],[15.125,-1.44],[15.141,-1.34],[15.157,-0.87],[15.172,-0.77],[15.188,-0.74],[15.203,-0.80],[15.219,-0.87],[15.235,-1.19],[15.250,-1.00],[15.266,-0.93],[15.281,-1.12],[15.297,-1.25],[15.312,-1.57],[15.328,-1.50],[15.344,-1.19],[15.359,-1.34],[15.375,-1.22],[15.390,-1.06],[15.406,-1.25],[15.421,-1.63],[15.437,-1.50],[15.453,-1.00]];

// dating error bars: centre age, low, high, row level (in the record's own units)
const chauvetBarAge = [13.42, 14.51, 11.45, 12.30, 13.84, 14.96];
const chauvetBarLo  = [13.14, 14.05, 11.29, 12.06, 13.59, 14.70];
const chauvetBarHi  = [13.69, 14.97, 11.61, 12.53, 14.10, 15.21];
const chauvetBarRow = [-4.71, -4.71, -4.51, -4.51, -4.51, -4.51];

const huluBarAge = [11.00, 11.37, 11.70, 12.06, 12.90, 13.36, 13.75, 14.36, 14.87];
const huluBarLo  = [10.90, 11.25, 11.61, 11.97, 12.79, 13.27, 13.64, 14.24, 14.74];
const huluBarHi  = [11.12, 11.49, 11.80, 12.17, 13.00, 13.45, 13.87, 14.49, 15.00];
const huluBarRow = [-6.2, -6.2, -6.2, -6.2, -6.2, -6.2, -6.2, -6.2, -6.2];

const donggeBarAge = [11.37, 11.72, 12.14, 12.51, 12.98, 13.15, 13.15, 13.61, 14.09, 14.80];
const donggeBarLo  = [11.27, 11.63, 12.06, 12.41, 12.89, 13.07, 13.06, 13.51, 13.98, 14.69];
const donggeBarHi  = [11.46, 11.81, 12.23, 12.60, 13.04, 13.25, 13.25, 13.73, 14.19, 14.92];
const donggeBarRow = [-6.12, -6.12, -6.12, -6.12, -6.12, -6.2, -6.04, -6.12, -6.12, -6.12];

const m15BarAge = [11.09, 11.86, 13.07, 13.54, 14.39, 14.89, 11.97, 13.40, 14.17, 14.51];
const m15BarLo  = [10.96, 11.75, 12.93, 13.35, 14.23, 14.71, 11.83, 13.21, 13.99, 14.39];
const m15BarHi  = [11.22, 11.97, 13.21, 13.73, 14.56, 15.08, 12.11, 13.60, 14.36, 14.63];
const m15BarRow = [-0.38, -0.32, -0.32, -0.32, -0.32, -0.32, -0.17, -0.17, -0.17, -0.17];

// ---- layout ----
const X_MIN = 11, X_MAX = 15.46;
const PLOT_LEFT = 108, PLOT_WIDTH = 543;
const SANS = "'Liberation Sans', Arial, sans-serif";
const NARROW = "'Liberation Sans Narrow', 'DejaVu Sans Condensed', sans-serif";
const INK = '#1a1a1a';

const grids = [], xAxes = [], yAxes = [], series = [];

function addGrid(top, height, xAxis, yAxis) {
  const gi = grids.length;
  grids.push({ left: PLOT_LEFT, width: PLOT_WIDTH, top, height });
  xAxes.push(Object.assign({ gridIndex: gi, type: 'value', min: X_MIN, max: X_MAX, show: false }, xAxis || {}));
  yAxes.push(Object.assign({ gridIndex: gi, type: 'value', min: 0, max: 1, show: false }, yAxis || {}));
  return gi;
}

const d18 = (tail) => '{t|δ}{s|18}{t|O (‰ ' + tail + ')}';
const nameRich = {
  t: { fontSize: 15, fontWeight: 'bold', fontFamily: SANS, color: INK, lineHeight: 18 },
  s: { fontSize: 9, fontWeight: 'bold', fontFamily: SANS, color: INK, lineHeight: 9, verticalAlign: 'top' }
};

function panelY(p) {
  const left = p.side === 'left';
  const ax = {
    show: true, position: p.side, offset: p.offset,
    min: p.min, max: p.max, inverse: !!p.inverse,
    splitLine: { show: false },
    axisLine: { show: true, lineStyle: { color: INK, width: 1.2 } },
    axisTick: { show: true, length: left ? 20 : 15, lineStyle: { color: INK, width: 1.2 } },
    axisLabel: { fontSize: 16, color: INK, fontFamily: SANS, margin: left ? 25 : 22 },
    name: p.name, nameLocation: 'middle', nameGap: p.nameGap,
    nameRotate: left ? 90 : -90,
    nameTextStyle: Object.assign({ fontSize: 15, fontWeight: 'bold', color: INK, fontFamily: SANS, rich: nameRich }, p.nameStyle || {})
  };
  if (p.ticks) {
    ax.axisTick.customValues = p.ticks;
    ax.axisLabel.customValues = p.ticks;
  } else {
    ax.interval = p.interval;
  }
  return ax;
}

// background shading (Younger Dryas dark, Bolling-Allerod light)
const gShade = addGrid(81, 1199);
series.push({
  type: 'line', xAxisIndex: gShade, yAxisIndex: gShade, data: [], silent: true, z: 0,
  markArea: {
    silent: true,
    data: [
      [{ xAxis: periodEdges[1], itemStyle: { color: '#bebebe' } }, { xAxis: periodEdges[2] }],
      [{ xAxis: periodEdges[2], itemStyle: { color: '#d9d9d9' } }, { xAxis: periodEdges[3] }]
    ]
  }
});

// period boxes, top and bottom, with age axes
const boxAreas = periodNames.map((n, i) => [
  { xAxis: periodEdges[i], name: n }, { xAxis: periodEdges[i + 1] }
]);
function boxSeries(gi) {
  return {
    type: 'line', xAxisIndex: gi, yAxisIndex: gi, data: [], silent: true,
    markArea: {
      silent: true,
      itemStyle: { color: '#fff', borderColor: INK, borderWidth: 1.2 },
      label: { show: true, position: 'inside', color: INK, fontSize: 15, fontFamily: NARROW },
      data: boxAreas
    }
  };
}
const majorAge = (pos, extra) => Object.assign({
  show: true, position: pos, interval: 1,
  axisLine: { show: true, lineStyle: { color: INK, width: 1.2 } },
  axisTick: { show: true, length: pos === 'top' ? 17 : 15, lineStyle: { color: INK, width: 1.2 } },
  axisLabel: { fontSize: 17, color: INK, fontFamily: SANS, showMaxLabel: false },
  splitLine: { show: false }
}, extra);
const minorAge = (pos) => ({
  show: true, position: pos, interval: 0.5,
  axisLine: { show: false },
  axisTick: { show: true, length: 9, lineStyle: { color: INK, width: 1.2 } },
  axisLabel: { show: false }, splitLine: { show: false }
});

const gTop = addGrid(57, 24, majorAge('top', { axisLabel: { fontSize: 17, color: INK, fontFamily: SANS, showMaxLabel: false, margin: 28 } }));
addGrid(57, 24, minorAge('top'));
series.push(boxSeries(gTop));
const gBot = addGrid(1280, 23, majorAge('bottom', {
  axisLabel: { fontSize: 17, color: INK, fontFamily: SANS, showMaxLabel: false, margin: 23 },
  name: 'Age (ky BP)', nameLocation: 'middle', nameGap: 44,
  nameTextStyle: { fontSize: 17, fontWeight: 'bold', color: INK, fontFamily: SANS }
}));
addGrid(1280, 23, minorAge('bottom'));
series.push(boxSeries(gBot));

// ---- record panels ----
const gMeth = addGrid(73, 180, null, panelY({ side: 'left', offset: 11, min: 400, max: 800, interval: 100, name: 'methane (ppbv)', nameGap: 64 }));
const gGrip = addGrid(220, 157, null, panelY({ side: 'right', offset: 27, min: -43, max: -35, ticks: gripTicks, name: d18('SMOW'), nameGap: 60 }));
const gAmm = addGrid(355, 147, null, panelY({ side: 'left', offset: 11, min: -16, max: -10, interval: 2, name: d18('VPDB'), nameGap: 64 }));
const gChv = addGrid(470, 140, null, panelY({ side: 'right', offset: 27, min: -6.5, max: -4.5, interval: 0.5, inverse: true, name: d18('VPDB'), nameGap: 60 }));
const gCar = addGrid(604, 173, null, panelY({ side: 'left', offset: 11, min: 160, max: 220, interval: 20, name: 'Grayscale (0-255)', nameGap: 64,
  nameStyle: { fontFamily: "'Liberation Serif', 'Times New Roman', serif", fontSize: 15 } }));
const gHulu = addGrid(827, 163, null, panelY({ side: 'right', offset: 27, min: -9, max: -5, interval: 1, inverse: true, name: d18('VPDB'), nameGap: 60 }));
const gDong = addGrid(935, 185, null, panelY({ side: 'left', offset: 20, min: -9, max: -5, interval: 1, inverse: true, name: d18('VPDB'), nameGap: 55 }));
const gM15 = addGrid(1115, 157, null, panelY({ side: 'right', offset: 27, min: -3, max: 0, interval: 1, inverse: true, name: d18('VPDB'), nameGap: 60 }));

function curve(gi, data, extra) {
  return Object.assign({
    type: 'line', xAxisIndex: gi, yAxisIndex: gi, data,
    showSymbol: false, symbol: 'none', clip: false, silent: true,
    lineStyle: { color: '#2a2a2a', width: 1 }
  }, extra || {});
}

function errorBars(gi, ages, lows, highs, rows) {
  return {
    type: 'custom', xAxisIndex: gi, yAxisIndex: gi, clip: false, silent: true,
    data: ages.map((a, i) => [a, rows[i], lows[i], highs[i]]),
    renderItem: (params, api) => {
      const c = api.coord([api.value(0), api.value(1)]);
      const lo = api.coord([api.value(2), api.value(1)]);
      const hi = api.coord([api.value(3), api.value(1)]);
      return {
        type: 'group',
        children: [
          { type: 'line', shape: { x1: lo[0], y1: c[1], x2: hi[0], y2: c[1] }, style: { stroke: INK, lineWidth: 2 } },
          { type: 'rect', shape: { x: c[0] - 3.5, y: c[1] - 3.5, width: 7, height: 7 }, style: { fill: INK } }
        ]
      };
    }
  };
}

series.push(curve(gMeth, methaneRef, { lineStyle: { color: INK, width: 1.6, type: [22, 7, 3, 7] } }));
series.push(curve(gMeth, methane, { showSymbol: true, symbol: 'diamond', symbolSize: 6, itemStyle: { color: INK }, lineStyle: { color: INK, width: 1 } }));
series.push(curve(gGrip, grip));
series.push(curve(gAmm, ammersee));
series.push(curve(gChv, chauvet));
series.push(errorBars(gChv, chauvetBarAge, chauvetBarLo, chauvetBarHi, chauvetBarRow));
series.push(curve(gCar, cariaco, { lineStyle: { color: '#1e1e1e', width: 1.1 } }));
series.push(curve(gHulu, hulu));
series.push(errorBars(gHulu, huluBarAge, huluBarLo, huluBarHi, huluBarRow));
series.push(curve(gDong, dongge));
series.push(errorBars(gDong, donggeBarAge, donggeBarLo, donggeBarHi, donggeBarRow));
series.push(curve(gM15, m15, { showSymbol: true, symbol: 'circle', symbolSize: 2.5, itemStyle: { color: INK } }));
series.push(errorBars(gM15, m15BarAge, m15BarLo, m15BarHi, m15BarRow));

// record names and the Atlantic / Monsoon divider, drawn above the shading
const recordLabel = (text, x, y) => ({
  type: 'text', x, y, z: 100, silent: true,
  style: { text, fill: INK, font: 'bold 18px ' + SANS, align: 'center', verticalAlign: 'middle' }
});
const graphic = [
  {
    type: 'text', x: 618, y: 155, z: 100, silent: true,
    style: {
      text: '{a|GISP2 CH}{b|4}', align: 'center', verticalAlign: 'middle',
      rich: {
        a: { fontSize: 18, fontWeight: 'bold', fontFamily: SANS, fill: INK, lineHeight: 22 },
        b: { fontSize: 12, fontWeight: 'bold', fontFamily: SANS, fill: INK, lineHeight: 12, verticalAlign: 'bottom' }
      }
    }
  },
  recordLabel('GRIP', 612, 268),
  recordLabel('Ammersee', 618, 407),
  recordLabel('Chauvet', 630, 530),
  recordLabel('Cariaco', 625, 690),
  recordLabel('Hulu', 616, 892),
  recordLabel('Dongge', 622, 1035),
  recordLabel('M1-5', 619, 1162),
  {
    type: 'text', x: 108, y: 790, z: 100, silent: true,
    style: { text: 'Atlantic - Fast', fill: INK, font: 'bold 23px ' + SANS, align: 'left', verticalAlign: 'middle' }
  },
  {
    type: 'line', z: 100, silent: true,
    shape: { x1: 106, y1: 807, x2: 668, y2: 807 },
    style: { stroke: INK, lineWidth: 3, lineDash: [11, 6] }
  },
  {
    type: 'text', x: 108, y: 823, z: 100, silent: true,
    style: { text: 'Monsoon - Slow', fill: INK, font: 'bold 23px ' + SANS, align: 'left', verticalAlign: 'middle' }
  }
];

const chart = echarts.init(document.getElementById('chart'), null, { renderer: 'canvas' });
chart.setOption({
  animation: false,
  backgroundColor: '#fff',
  textStyle: { fontFamily: SANS },
  grid: grids,
  xAxis: xAxes,
  yAxis: yAxes,
  series,
  graphic: { elements: graphic, z: 100 }
});
</script>
</body>
</html>
